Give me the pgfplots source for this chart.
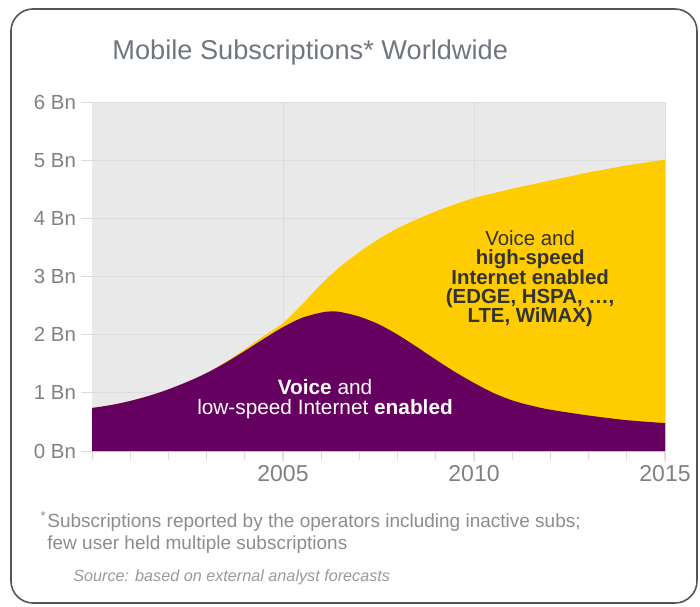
\documentclass[border=0pt]{standalone}
\usepackage{fontspec}
\setmainfont{Liberation Sans}
\usepackage{pgfplots}
\pgfplotsset{compat=1.18}

\definecolor{subpurple}{RGB}{102,0,96}
\definecolor{subyellow}{RGB}{255,204,0}
\definecolor{plotbg}{RGB}{233,233,233}
\definecolor{gridgray}{RGB}{220,220,220}
\definecolor{titlegray}{RGB}{112,118,128}
\definecolor{labelgray}{RGB}{128,128,128}
\definecolor{notegray}{RGB}{140,140,140}
\definecolor{framegray}{RGB}{85,85,85}

\begin{document}
\begin{tikzpicture}
% page size and outer frame
\path (0,0) rectangle (350pt,303pt);
\draw[framegray, line width=0.8pt, rounded corners=11pt] (5.5pt,1.5pt) rectangle (348.5pt,298.5pt);

\node[anchor=base west, inner sep=0pt, text=titlegray, font=\fontsize{13.6}{15}\selectfont] at (56pt,273pt) {Mobile Subscriptions* Worldwide};

\begin{axis}[
  at={(46pt,77.5pt)}, anchor=south west,
  scale only axis,
  width=286.5pt, height=174.5pt,
  xmin=2000, xmax=2015,
  ymin=0, ymax=6,
  axis line style={draw=none},
  axis background/.style={fill=plotbg},
  xtick={2005,2010,2015},
  minor xtick={2000,...,2015},
  ytick={0,1,2,3,4,5,6},
  yticklabels={0 Bn,1 Bn,2 Bn,3 Bn,4 Bn,5 Bn,6 Bn},
  tick pos=left,
  tick align=outside,
  major tick length=5.5pt,
  minor tick length=4.5pt,
  every tick/.style={gridgray, line width=0.5pt},
  grid=major,
  major grid style={gridgray, line width=0.5pt},
  /pgf/number format/1000 sep={},
  /pgf/number format/assume math mode=true,
  xticklabel style={text=labelgray, font=\fontsize{11.5}{13}\selectfont, yshift=2pt},
  yticklabel style={text=labelgray, font=\fontsize{10.2}{12}\selectfont, xshift=1pt},
  clip=true,
]
% total subscriptions (top of the yellow area)
\addplot[draw=none, fill=subyellow, smooth] coordinates {
  (2000,0.74)(2000.5,0.79)(2001,0.86)(2001.5,0.95)(2002,1.06)(2002.5,1.19)
  (2003,1.34)(2003.5,1.53)(2004,1.75)(2004.5,1.98)(2005,2.20)(2005.5,2.52)
  (2006,2.87)(2006.5,3.17)(2007,3.42)(2007.5,3.64)(2008,3.83)(2008.5,3.98)
  (2009,4.12)(2009.5,4.24)(2010,4.35)(2010.5,4.43)(2011,4.51)(2011.5,4.58)
  (2012,4.65)(2012.5,4.72)(2013,4.79)(2013.5,4.85)(2014,4.91)(2014.5,4.96)
  (2015,5.01)
} \closedcycle;
% voice and low-speed internet
\addplot[draw=none, fill=subpurple, smooth] coordinates {
  (2000,0.74)(2000.5,0.79)(2001,0.86)(2001.5,0.95)(2002,1.06)(2002.5,1.19)
  (2003,1.34)(2003.5,1.52)(2004,1.72)(2004.5,1.93)(2005,2.13)(2005.5,2.29)
  (2006,2.38)(2006.25,2.40)(2006.5,2.39)(2007,2.31)(2007.5,2.18)(2008,2.00)
  (2008.5,1.79)(2009,1.57)(2009.5,1.36)(2010,1.17)(2010.5,1.00)(2011,0.87)
  (2011.5,0.78)(2012,0.71)(2013,0.61)(2014,0.53)(2015,0.48)
} \closedcycle;

\node[align=center, text=white, font=\fontsize{10.4}{10}\selectfont] at (axis cs:2006.1,0.90)
  {\textbf{Voice} and\\low-speed Internet \textbf{enabled}};
\node[align=center, text=black!80, font=\fontsize{10.2}{9.6}\selectfont] at (axis cs:2011.47,2.96)
  {Voice and\\\textbf{high-speed}\\\textbf{Internet enabled}\\\textbf{(EDGE, HSPA, \dots,}\\\textbf{LTE, WiMAX)}};
\end{axis}

\node[anchor=base east, inner sep=0pt, text=notegray, font=\fontsize{6.5}{7}\selectfont] at (23pt,43pt) {*};
\node[anchor=base west, inner sep=0pt, text=notegray, font=\fontsize{9.5}{11}\selectfont] at (23.5pt,39.5pt)
  {Subscriptions reported by the operators including inactive subs;};
\node[anchor=base west, inner sep=0pt, text=notegray, font=\fontsize{9.5}{11}\selectfont] at (23.5pt,28.5pt)
  {few user held multiple subscriptions};
\node[anchor=base west, inner sep=0pt, text=labelgray!80, font=\fontsize{8.1}{9}\selectfont\itshape] at (36.5pt,12.5pt)
  {Source: based on external analyst forecasts};
\end{tikzpicture}
\end{document}
